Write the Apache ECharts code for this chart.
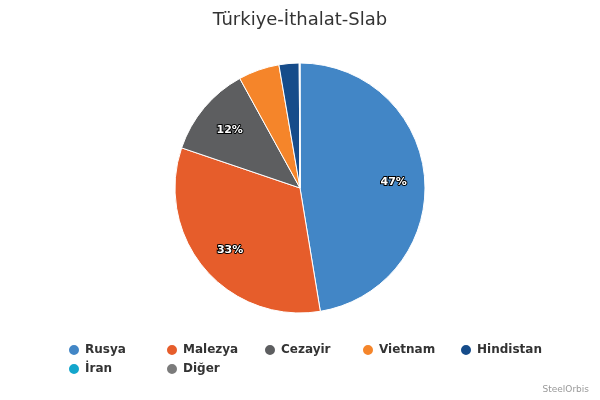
<!DOCTYPE html>
<html><head><meta charset="utf-8">
<script src="https://cdn.jsdelivr.net/npm/echarts@6/dist/echarts.min.js"></script>
<style>html,body{margin:0;padding:0;background:#fff}#c{width:600px;height:400px}</style>
</head><body><div id="c"></div>
<script>
var categories = ['Rusya','Malezya','Cezayir','Vietnam','Hindistan','İran','Diğer'];
var values = [47.4, 32.8, 11.8, 5.3, 2.6, 0.05, 0.05];
var colors = ['#4286c6','#e65d2b','#5d5e60','#f5852a','#164c8a','#13a6cc','#7b7b7b'];
var titleText = 'Türkiye-İthalat-Slab';
var creditText = 'SteelOrbis';

var data = categories.map(function(n,i){return {name:n, value:values[i], itemStyle:{color:colors[i]}};});
var chart = echarts.init(document.getElementById('c'));
var font = '"DejaVu Sans", Verdana, sans-serif';
var legends = categories.map(function(n,i){
  return {left:67 + (i%5)*98, top:343 + Math.floor(i/5)*19, padding:0, icon:'circle',
    itemWidth:12, itemHeight:12, itemGap:0, data:[n],
    textStyle:{fontFamily:font, fontSize:12, fontWeight:'bold', color:'#333'}};
});
chart.setOption({
  animation:false,
  title:[{text:titleText, left:'center', top:6, textStyle:{fontFamily:font, fontSize:18, fontWeight:'normal', color:'#333'}},
         {text:creditText, right:6, bottom:1, textStyle:{fontFamily:font, fontSize:9, fontWeight:'normal', color:'#999'}}],
  legend:legends,
  series:[
    {type:'pie', center:[300,188], radius:125, startAngle:90, clockwise:true, data:data,
     avoidLabelOverlap:false,
     itemStyle:{borderColor:'#fff', borderWidth:1},
     label:{show:false}, labelLine:{show:false}, emphasis:{disabled:true}},
    {type:'pie', center:[300,188], radius:180, startAngle:90, clockwise:true, data:data.map(function(d){return {name:d.name,value:d.value};}),
     silent:true, avoidLabelOverlap:false, legendHoverLink:false,
     itemStyle:{color:'rgba(0,0,0,0)', borderWidth:0},
     label:{show:true, position:'inside', offset:[1,2], fontFamily:font, fontSize:11, fontWeight:'bold', color:'#fff',
       textBorderColor:'#000', textBorderWidth:2,
       formatter:function(p){return p.value>=10 ? Math.round(p.percent)+'%' : '';}},
     labelLine:{show:false}, emphasis:{disabled:true}}
  ]
});
</script></body></html>
